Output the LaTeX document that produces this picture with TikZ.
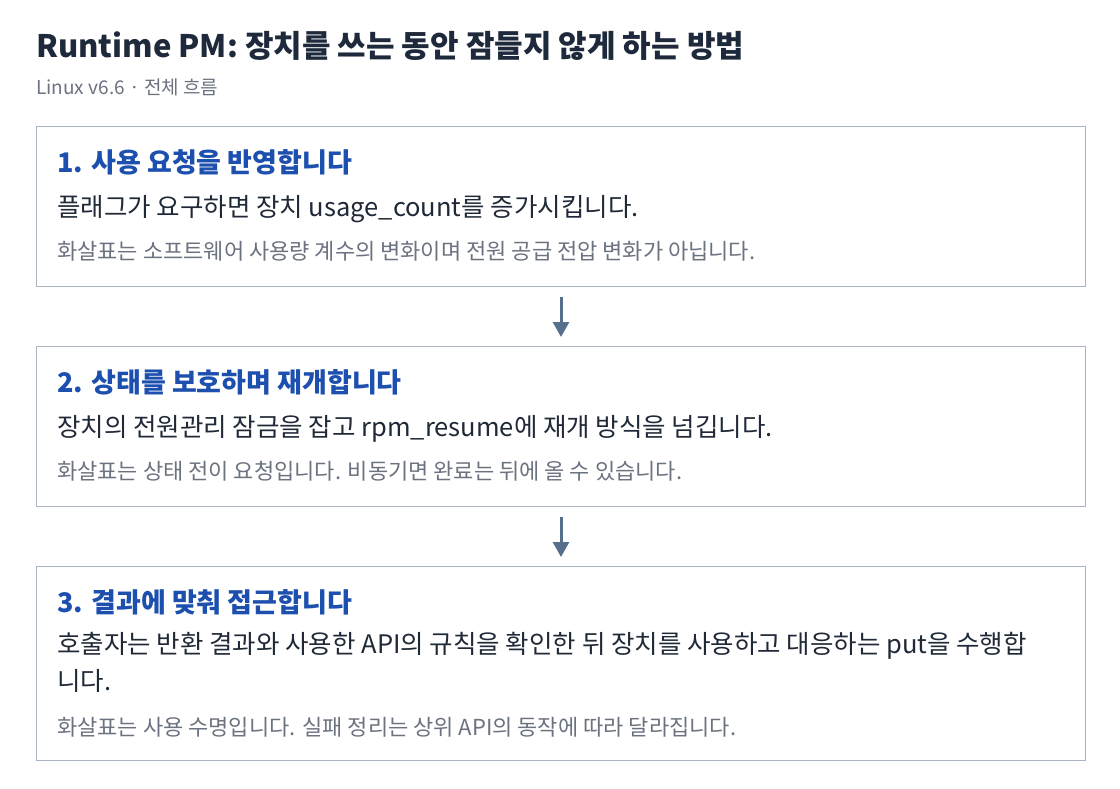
\documentclass[tikz,border=0pt]{standalone}
\usepackage{fontspec}
\setmainfont{Noto Sans CJK KR}
\usetikzlibrary{arrows.meta}
\definecolor{titlecol}{HTML}{1E293B}
\definecolor{headcol}{HTML}{1C4FAE}
\definecolor{bodycol}{HTML}{1F2937}
\definecolor{notecol}{HTML}{6B7280}
\definecolor{framecol}{HTML}{AAB4C2}
\definecolor{arrowcol}{HTML}{566F8C}
\tikzset{
    stepbox/.style={draw=framecol, line width=1pt, fill=white, minimum width=1049pt, anchor=north west, inner sep=0pt},
    heading/.style={anchor=base west, inner sep=0pt, text=headcol, font=\fontsize{27}{31}\selectfont\bfseries},
    bodytext/.style={anchor=base west, inner sep=0pt, text=bodycol, font=\fontsize{25.5}{37}\selectfont, align=left},
    notetext/.style={anchor=base west, inner sep=0pt, text=notecol, font=\fontsize{22}{26}\selectfont},
    flow/.style={-{Triangle[width=16pt,length=15pt]}, line width=3pt, draw=arrowcol, shorten <=10pt, shorten >=9pt}
}
\begin{document}
\begin{tikzpicture}[x=1pt,y=-1pt]
    \useasboundingbox (0,0) rectangle (1120,788);
    \node[anchor=base west, inner sep=0pt, text=titlecol, font=\fontsize{31}{36}\selectfont\bfseries] (title) at (36,57) {Runtime PM: 장치를 쓰는 동안 잠들지 않게 하는 방법};
    \node[anchor=base west, inner sep=0pt, text=notecol, font=\fontsize{19}{23}\selectfont] (sub) at (36,94) {Linux v6.6 · 전체 흐름};

    \node[stepbox, minimum height=160pt] (s1) at (36,126) {};
    \node[heading] (h1) at (57,172) {1. 사용 요청을 반영합니다};
    \node[bodytext] (b1) at (57,216) {플래그가 요구하면 장치 usage\_count를 증가시킵니다.};
    \node[notetext] (n1) at (57,259) {화살표는 소프트웨어 사용량 계수의 변화이며 전원 공급 전압 변화가 아닙니다.};

    \node[stepbox, minimum height=160pt] (s2) at (36,346) {};
    \node[heading] (h2) at (57,392) {2. 상태를 보호하며 재개합니다};
    \node[bodytext] (b2) at (57,436) {장치의 전원관리 잠금을 잡고 rpm\_resume에 재개 방식을 넘깁니다.};
    \node[notetext] (n2) at (57,479) {화살표는 상태 전이 요청입니다. 비동기면 완료는 뒤에 올 수 있습니다.};

    \node[stepbox, minimum height=194pt] (s3) at (36,566) {};
    \node[heading] (h3) at (57,612) {3. 결과에 맞춰 접근합니다};
    % base of a two-line node is its last line
    \node[bodytext] (b3) at (57,690) {호출자는 반환 결과와 사용한 API의 규칙을 확인한 뒤 장치를 사용하고 대응하는 put을 수행합\\니다.};
    \node[notetext] (n3) at (57,735) {화살표는 사용 수명입니다. 실패 정리는 상위 API의 동작에 따라 달라집니다.};

    \draw[flow] (s1.south) -- (s2.north);
    \draw[flow] (s2.south) -- (s3.north);
\end{tikzpicture}
\end{document}
